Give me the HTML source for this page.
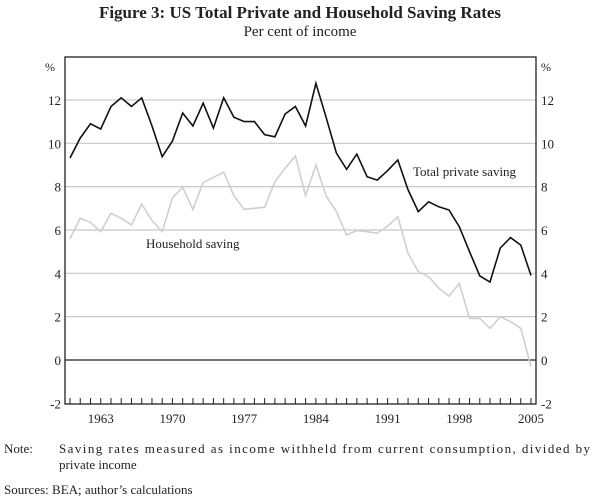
<!DOCTYPE html>
<html><head><meta charset="utf-8"><style>
body{margin:0;background:#fff;font-family:"Liberation Serif",serif;color:#222}
svg text{font-family:"Liberation Serif",serif;fill:#222}
</style></head><body>
<svg id="c" width="600" height="497">
<text x="300" y="18" text-anchor="middle" font-size="17" font-weight="bold">Figure 3: US Total Private and Household Saving Rates</text>
<text x="300" y="36" text-anchor="middle" font-size="15">Per cent of income</text>
<g id="grid"></g><g id="axes"></g><g id="lines"></g>
<text x="413" y="176" font-size="13">Total private saving</text>
<text x="146" y="248" font-size="13">Household saving</text>
<g font-size="13">
<text x="4" y="453">Note:</text>
<text x="59" y="453" textLength="531" lengthAdjust="spacing">Saving rates measured as income withheld from current consumption, divided by</text>
<text x="59" y="469">private income</text>
<text x="4" y="494">Sources: BEA; author’s calculations</text>
</g>
</svg>
<script>
const years=[];for(let y=1960;y<=2005;y++)years.push(y);
const totalPrivate=[9.32,10.24,10.9,10.66,11.7,12.1,11.7,12.1,10.8,9.38,10.1,11.4,10.8,11.85,10.7,12.1,11.2,11.0,11.0,10.4,10.3,11.35,11.7,10.8,12.77,11.2,9.55,8.8,9.5,8.46,8.3,8.74,9.23,7.85,6.85,7.3,7.07,6.92,6.15,5.0,3.88,3.6,5.17,5.65,5.3,3.9];
const household=[5.6,6.54,6.35,5.92,6.77,6.54,6.23,7.2,6.43,5.92,7.48,7.97,6.95,8.2,8.43,8.66,7.58,6.95,7.0,7.05,8.23,8.85,9.41,7.58,9.0,7.57,6.85,5.77,5.97,5.92,5.85,6.18,6.61,4.92,4.08,3.85,3.31,2.95,3.54,1.92,1.92,1.46,2.0,1.77,1.46,-0.31];
const yTicks=[-2,0,2,4,6,8,10,12];
const xLabels=[1963,1970,1977,1984,1991,1998,2005];
const L=65,R=536,T=57,B=404;
const x=v=>70+(v-1960)*(531-70)/45;
const y=v=>360-v*21.67;
const NS='http://www.w3.org/2000/svg';
function mk(tag,parent,attrs){const e=document.createElementNS(NS,tag);for(const k in attrs)e.setAttribute(k,attrs[k]);document.getElementById(parent).appendChild(e);return e;}
yTicks.forEach(v=>{
 if(v>-2){const g=mk('line','grid',{x1:L,x2:R,y1:y(v),y2:y(v),stroke:v===0?'#222':'#c8c8c8','stroke-width':1.2});
 
 }
 const t1=mk('text','axes',{x:L-4,y:y(v)+5,'text-anchor':'end','font-size':13});t1.textContent=v;
 
 
 const t2=mk('text','axes',{x:R+5,y:y(v)+5,'font-size':13});t2.textContent=v;
 
 
});
['left','right'].forEach((s,i)=>{const t=mk('text','axes',{x:i?R+5:L-20,y:71,'font-size':12});t.textContent='%';
 
 });
const fr=mk('rect','axes',{x:L,y:T,width:R-L,height:B-T,fill:'none',stroke:'#222','stroke-width':1.3});


years.forEach(v=>{const t=mk('line','axes',{x1:x(v),x2:x(v),y1:B,y2:B-6,stroke:'#222','stroke-width':1});
 
 });
xLabels.forEach(v=>{const t=mk('text','axes',{x:x(v),y:423,'text-anchor':'middle','font-size':13});t.textContent=v;
 
 });
function path(vals){return vals.map((v,i)=>(i?'L':'M')+x(years[i]).toFixed(1)+','+y(v).toFixed(1)).join('');}
const h=mk('path','lines',{d:path(household),fill:'none',stroke:'#cfcfcf','stroke-width':1.6});


const tp=mk('path','lines',{d:path(totalPrivate),fill:'none',stroke:'#111','stroke-width':1.6});


</script>
</body></html>
